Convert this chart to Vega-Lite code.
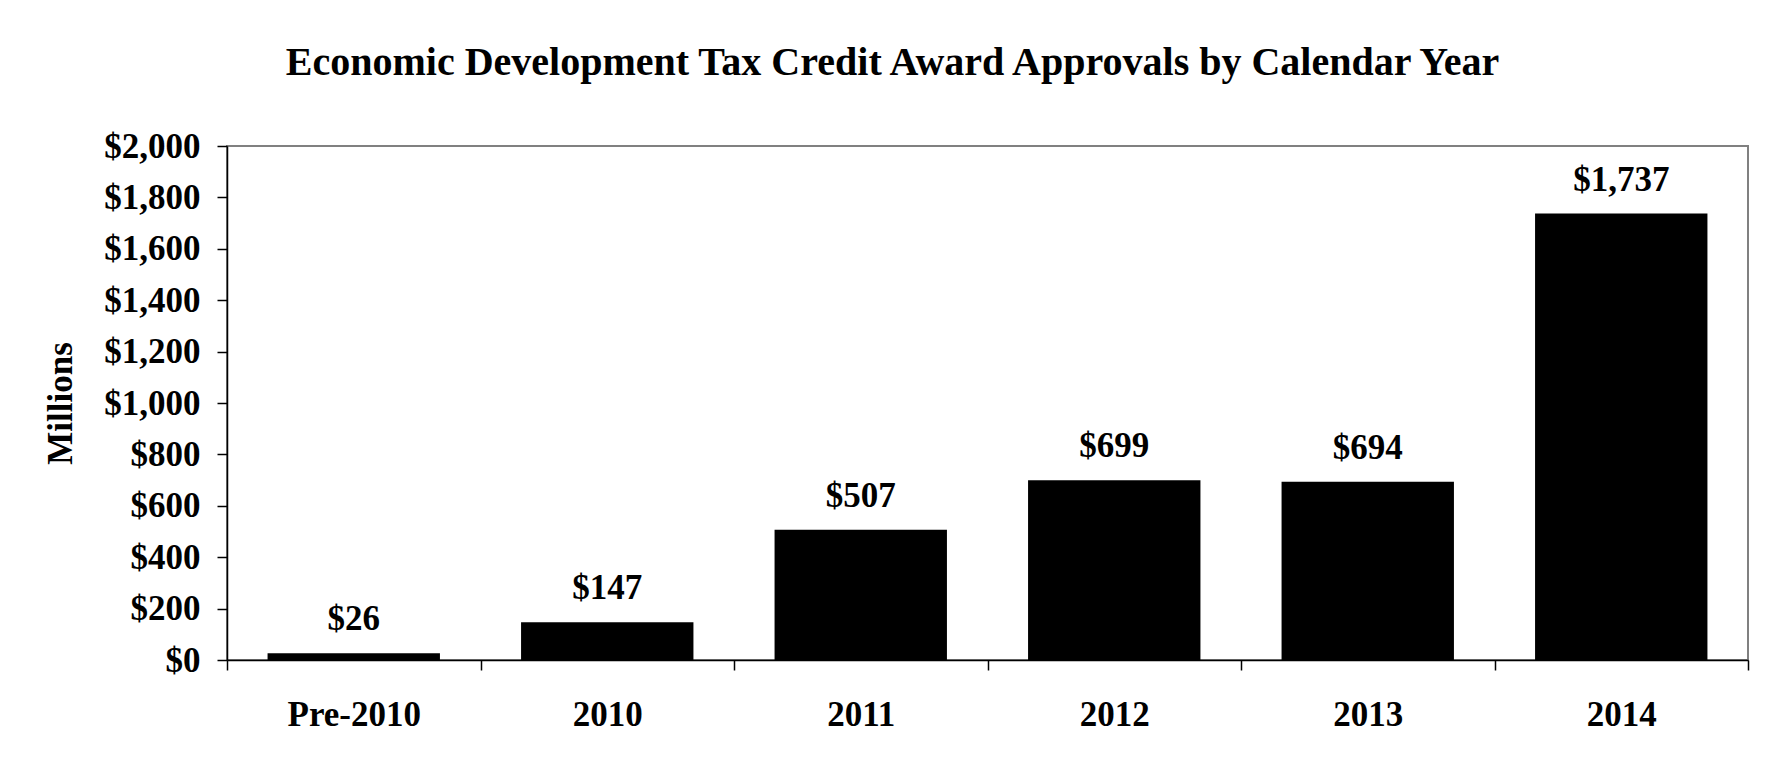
{
  "$schema": "https://vega.github.io/schema/vega-lite/v6.json",
  "width": 1521,
  "height": 514,
  "autosize": {"type": "none"},
  "padding": {"left": 227, "top": 146, "right": 29, "bottom": 106},
  "background": "white",
  "title": {
    "text": "Economic Development Tax Credit Award Approvals by Calendar Year",
    "font": "Liberation Serif",
    "fontSize": 40,
    "fontWeight": "bold",
    "color": "#000000",
    "anchor": "middle",
    "frame": "group",
    "dx": -95,
    "baseline": "alphabetic",
    "offset": 14
  },
  "config": {
    "view": {"stroke": "#808080", "strokeWidth": 2},
    "axis": {
      "labelFont": "Liberation Serif",
      "labelFontWeight": "bold",
      "labelColor": "#000000",
      "titleFont": "Liberation Serif",
      "titleFontWeight": "bold",
      "titleColor": "#000000",
      "domainColor": "#000000",
      "tickColor": "#000000",
      "domainWidth": 1.5,
      "tickWidth": 1.5,
      "grid": false
    }
  },
  "data": {
    "values": [
      {"year": "Pre-2010", "value": 26},
      {"year": "2010", "value": 147},
      {"year": "2011", "value": 507},
      {"year": "2012", "value": 699},
      {"year": "2013", "value": 694},
      {"year": "2014", "value": 1737}
    ]
  },
  "encoding": {
    "x": {
      "field": "year",
      "type": "nominal",
      "sort": null,
      "scale": {"paddingInner": 0, "paddingOuter": 0},
      "axis": {
        "title": null,
        "labelAngle": 0,
        "labelFontSize": 35,
        "labelBaseline": "alphabetic",
        "labelPadding": 55,
        "tickSize": 10,
        "tickBand": "extent"
      }
    },
    "y": {
      "field": "value",
      "type": "quantitative",
      "scale": {"domain": [0, 2000], "nice": false},
      "axis": {
        "title": "Millions",
        "titleFontSize": 35,
        "titleX": -167,
        "titleY": 257,
        "titleAngle": -90,
        "titleAlign": "center",
        "titleBaseline": "middle",
        "values": [0, 200, 400, 600, 800, 1000, 1200, 1400, 1600, 1800, 2000],
        "format": "$,.0f",
        "labelFontSize": 35,
        "labelPadding": 17,
        "tickSize": 10
      }
    }
  },
  "layer": [
    {"mark": {"type": "bar", "color": "#000000", "width": {"band": 0.68}}},
    {
      "mark": {
        "type": "text",
        "font": "Liberation Serif",
        "fontWeight": "bold",
        "fontSize": 35,
        "color": "#000000",
        "baseline": "alphabetic",
        "dy": -23
      },
      "encoding": {"text": {"field": "value", "type": "quantitative", "format": "$,.0f"}}
    }
  ]
}
